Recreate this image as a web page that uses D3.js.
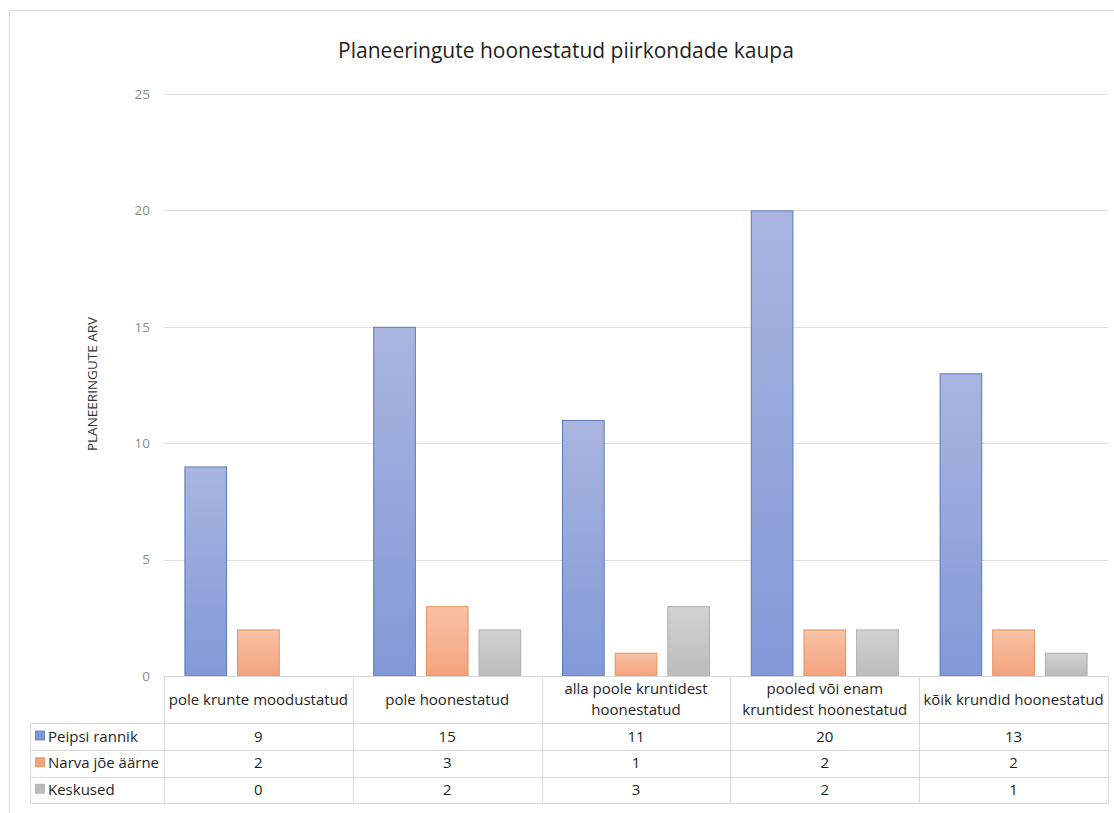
<!DOCTYPE html>
<html>
<head>
<meta charset="utf-8">
<script src="https://cdn.jsdelivr.net/npm/d3@7/dist/d3.min.js"></script>
<style>
  html, body { margin: 0; padding: 0; background: #ffffff; }
  svg { display: block; font-family: "Open Sans", "Noto Sans", sans-serif; }
</style>
</head>
<body>
<svg id="chart" width="1114" height="813"></svg>
<script>
// Categories (header lines separated by "\n")
const categories = [
  "pole krunte moodustatud",
  "pole hoonestatud",
  "alla poole kruntidest\nhoonestatud",
  "pooled või enam\nkruntidest hoonestatud",
  "kõik krundid hoonestatud"
];
const seriesNames = ["Peipsi rannik", "Narva jõe äärne", "Keskused"];
const peipsiRannik = [9, 15, 11, 20, 13];
const narvaJoeAarne = [2, 3, 1, 2, 2];
const keskused = [0, 2, 3, 2, 1];
const yTicks = [0, 5, 10, 15, 20, 25];

const seriesValues = [peipsiRannik, narvaJoeAarne, keskused];
const seriesStyle = [
  { top: "#a9b5df", bottom: "#8199d7", stroke: "#5b79bb", swatch: "#7f98d5" },
  { top: "#f8c2a6", bottom: "#f4a37c", stroke: "#e98f5f", swatch: "#f4a27c" },
  { top: "#d2d2d2", bottom: "#bcbcbc", stroke: "#aeaeae", swatch: "#bdbdbd" }
];

const svg = d3.select("#chart");

// outer chart border (top and left edges fall inside the view)
svg.append("rect")
  .attr("x", 9.5).attr("y", 10.5)
  .attr("width", 1130).attr("height", 830)
  .attr("fill", "#ffffff").attr("stroke", "#d9d9d9");

// gradients
const defs = svg.append("defs");
seriesStyle.forEach((s, i) => {
  const g = defs.append("linearGradient")
    .attr("id", "grad" + i)
    .attr("x1", 0).attr("y1", 0).attr("x2", 0).attr("y2", 1);
  g.append("stop").attr("offset", "0%").attr("stop-color", s.top);
  g.append("stop").attr("offset", "100%").attr("stop-color", s.bottom);
});

const plotLeft = 164, plotRight = 1108, plotTop = 94, plotBottom = 676;

const x = d3.scaleBand().domain(categories).range([plotLeft, plotRight]).padding(0);
const xs = d3.scaleBand().domain(seriesNames).range([0, x.bandwidth()])
  .paddingInner(0.19).paddingOuter(0.387);
const y = d3.scaleLinear().domain([0, 25]).range([plotBottom, plotTop]);

// title
svg.append("text")
  .attr("x", 566).attr("y", 58)
  .attr("text-anchor", "middle")
  .attr("font-size", 21)
  .attr("fill", "#1f1f1f")
  .text("Planeeringute hoonestatud piirkondade kaupa");

// gridlines
svg.append("g").selectAll("line")
  .data(yTicks.filter(t => t > 0))
  .join("line")
  .attr("x1", plotLeft).attr("x2", plotRight)
  .attr("y1", d => Math.round(y(d)) + 0.5).attr("y2", d => Math.round(y(d)) + 0.5)
  .attr("stroke", "#dedede").attr("stroke-width", 1);

// y axis tick labels
const yAxis = d3.axisLeft(y).tickValues(yTicks).tickSize(0).tickPadding(0);
const yg = svg.append("g").attr("transform", "translate(150,0)").call(yAxis);
yg.select(".domain").remove();
yg.selectAll("text")
  .attr("font-family", "'Open Sans', sans-serif")
  .attr("font-size", 13.5).attr("fill", "#8c8c8c");

// y axis title
svg.append("text")
  .attr("transform", "translate(97,384) rotate(-90)")
  .attr("text-anchor", "middle")
  .attr("font-size", 13.5)
  .attr("fill", "#333333")
  .text("PLANEERINGUTE ARV");

// bars
seriesValues.forEach((vals, si) => {
  svg.append("g").selectAll("rect")
    .data(vals.map((v, ci) => ({ v, c: categories[ci] })).filter(d => d.v > 0))
    .join("rect")
    .attr("x", d => x(d.c) + xs(seriesNames[si]) + 0.5)
    .attr("width", xs.bandwidth() - 1)
    .attr("y", d => y(d.v) + 0.5)
    .attr("height", d => y(0) - y(d.v) - 0.5)
    .attr("fill", `url(#grad${si})`)
    .attr("stroke", seriesStyle[si].stroke)
    .attr("stroke-width", 1);
});

// data table
const tableLeft = 30;
const rowEdges = [676, 723, 750, 776.5, 803];
const lineColor = "#d9d9d9";
const tbl = svg.append("g");
const fs = 15;

// horizontal lines
rowEdges.forEach((ry, i) => {
  tbl.append("line")
    .attr("x1", i === 0 ? plotLeft : tableLeft).attr("x2", plotRight)
    .attr("y1", Math.round(ry) + 0.5).attr("y2", Math.round(ry) + 0.5)
    .attr("stroke", lineColor);
});
// vertical lines
const colEdges = categories.map(c => x(c)).concat([plotRight]);
colEdges.forEach(cx => {
  tbl.append("line")
    .attr("x1", Math.round(cx) + 0.5).attr("x2", Math.round(cx) + 0.5)
    .attr("y1", rowEdges[0]).attr("y2", rowEdges[4])
    .attr("stroke", lineColor);
});
tbl.append("line")
  .attr("x1", tableLeft + 0.5).attr("x2", tableLeft + 0.5)
  .attr("y1", rowEdges[1]).attr("y2", rowEdges[4])
  .attr("stroke", lineColor);

// category headers
categories.forEach(c => {
  const lines = c.split("\n");
  const cy = (rowEdges[0] + rowEdges[1]) / 2;
  const lh = 21;
  const t = tbl.append("text")
    .attr("text-anchor", "middle")
    .attr("font-size", fs)
    .attr("fill", "#1f1f1f");
  lines.forEach((ln, i) => {
    t.append("tspan")
      .attr("x", x(c) + x.bandwidth() / 2)
      .attr("y", cy + (i - (lines.length - 1) / 2) * lh + 5)
      .text(ln);
  });
});

// series rows
seriesNames.forEach((name, si) => {
  const cy = (rowEdges[si + 1] + rowEdges[si + 2]) / 2;
  tbl.append("rect")
    .attr("x", 35.5).attr("y", cy - 5.5)
    .attr("width", 9).attr("height", 9)
    .attr("fill", seriesStyle[si].swatch)
    .attr("stroke", seriesStyle[si].stroke).attr("stroke-width", 0.8);
  tbl.append("text")
    .attr("x", 48).attr("y", cy + 5)
    .attr("font-size", fs).attr("fill", "#1f1f1f")
    .text(name);
  tbl.append("g").selectAll("text")
    .data(seriesValues[si])
    .join("text")
    .attr("x", (d, ci) => x(categories[ci]) + x.bandwidth() / 2)
    .attr("y", cy + 5)
    .attr("text-anchor", "middle")
    .attr("font-size", fs).attr("fill", "#1f1f1f")
    .text(d => d);
});
</script>
</body>
</html>
